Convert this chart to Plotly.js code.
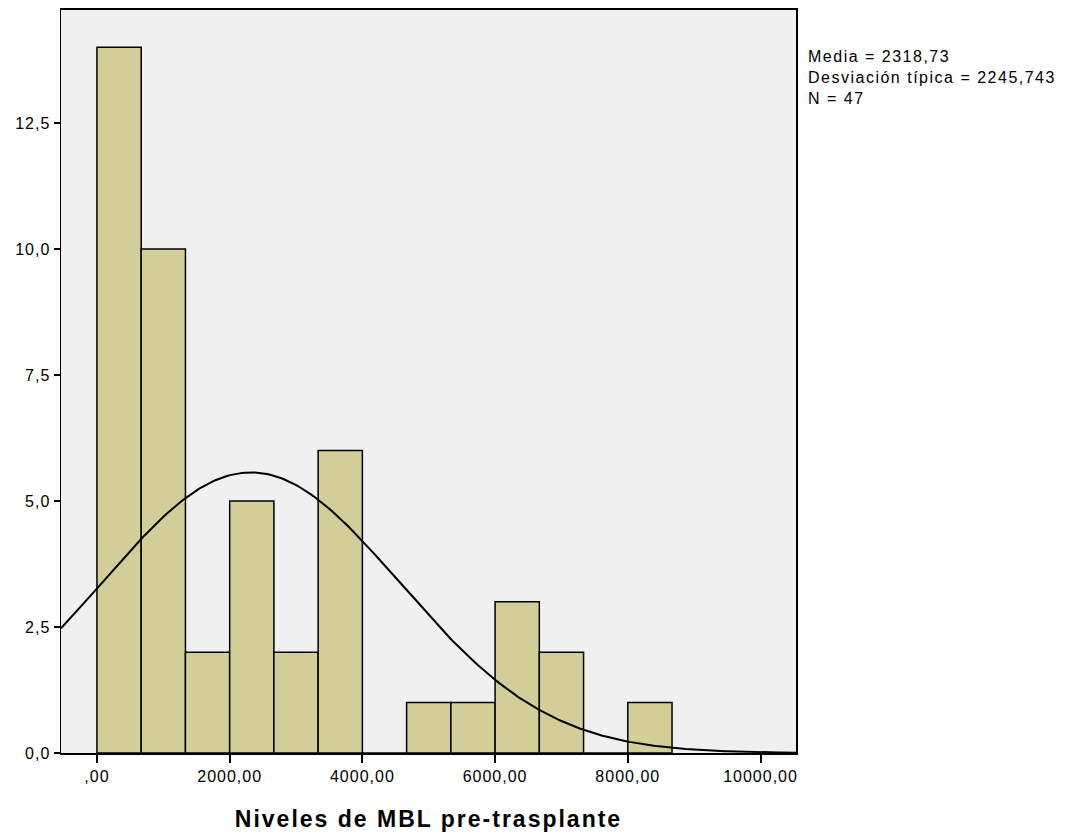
<!DOCTYPE html>
<html><head><meta charset="utf-8">
<script src="https://cdn.plot.ly/plotly-3.0.1.min.js"></script>
<style>
body{margin:0;background:#fff}#c{width:1067px;height:838px}
.xtick text,.ytick text{letter-spacing:1px}
.xtitle{letter-spacing:2px}
.annotation-text{letter-spacing:1.5px}
</style>
</head><body><div id="c"></div>
<script>
// Histogram data (bin start values and counts)
const binStarts = [0, 666.67, 1333.33, 2000, 2666.67, 3333.33, 4000, 4666.67, 5333.33, 6000, 6666.67, 7333.33, 8000];
const counts    = [14, 10, 2, 5, 2, 6, 0, 1, 1, 3, 2, 0, 1];
const binWidth = 666.67;
// Summary stats shown in chart
const mean = 2318.73;
const sd = 2245.743;
const N = 47;
const xTickVals = [0, 2000, 4000, 6000, 8000, 10000];
const xTickText = [',00', '2000,00', '4000,00', '6000,00', '8000,00', '10000,00'];
const yTickVals = [0, 2.5, 5, 7.5, 10, 12.5];
const yTickText = ['0,0', '2,5', '5,0', '7,5', '10,0', '12,5'];

const xRange = [-542, 10535];
const yRange = [0, 14.74];

// Fitted normal curve from stated mean / sd
const cx = [], cy = [];
for (let i = 0; i <= 300; i++) {
  const x = xRange[0] + (xRange[1] - xRange[0]) * i / 300;
  const z = (x - mean) / sd;
  cx.push(x);
  cy.push(N * binWidth / (sd * Math.sqrt(2 * Math.PI)) * Math.exp(-0.5 * z * z));
}

const bars = {
  type: 'bar',
  x: binStarts.map(s => s + binWidth / 2),
  y: counts,
  width: binWidth,
  marker: {color: '#d3ce98', line: {color: '#000', width: 1.5}},
  hoverinfo: 'x+y'
};
const curve = {
  type: 'scatter', mode: 'lines', x: cx, y: cy,
  line: {color: '#000', width: 2}, hoverinfo: 'skip'
};

const layout = {
  width: 1067, height: 838,
  margin: {l: 61, r: 271, t: 10, b: 85},
  paper_bgcolor: '#fff', plot_bgcolor: '#f0f0f0',
  showlegend: false,
  font: {family: 'Liberation Sans, Arial, sans-serif', color: '#000', size: 16},
  bargap: 0,
  xaxis: {
    range: xRange, tickvals: xTickVals, ticktext: xTickText,
    ticks: 'outside', ticklen: 8, tickwidth: 2, tickcolor: '#000',
    showgrid: false, zeroline: false,
    showline: true, linecolor: '#000', linewidth: 2, mirror: true,
    tickfont: {size: 16},
    title: {text: '<b>Niveles de MBL pre-trasplante</b>', font: {size: 23}, standoff: 27}
  },
  yaxis: {
    range: yRange, tickvals: yTickVals, ticktext: yTickText,
    ticks: 'outside', ticklen: 6, tickwidth: 2, tickcolor: '#000',
    showgrid: false, zeroline: false,
    showline: true, linecolor: '#000', linewidth: 1.5, mirror: true,
    tickfont: {size: 16}
  },
  annotations: [{
    xref: 'paper', yref: 'paper', x: 1.013, y: 0.952,
    xanchor: 'left', yanchor: 'top', align: 'left', showarrow: false,
    text: 'Media = 2318,73<br>Desviación típica = 2245,743<br>N = 47',
    font: {size: 16}
  }]
};
Plotly.newPlot('c', [bars, curve], layout, {displayModeBar: false, staticPlot: true});
</script></body></html>
